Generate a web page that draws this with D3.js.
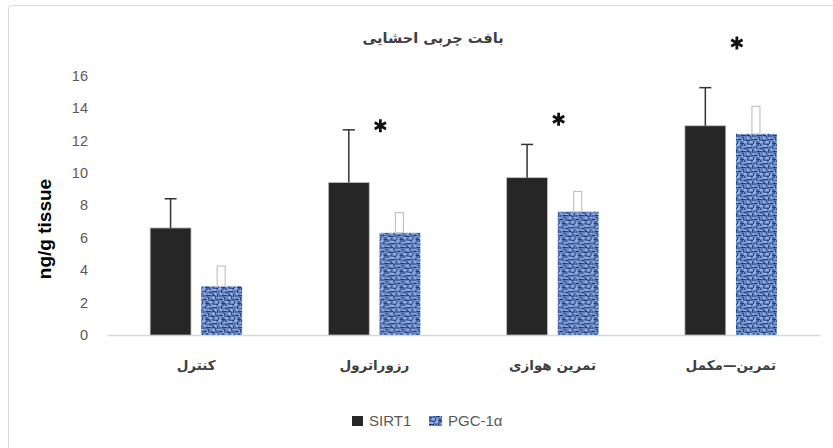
<!DOCTYPE html>
<html>
<head>
<meta charset="utf-8">
<script src="https://cdn.jsdelivr.net/npm/d3@7"></script>
<style>
  html, body { margin: 0; padding: 0; background: #fff; }
  svg { display: block; }
</style>
</head>
<body>
<svg id="chart" width="833" height="448"></svg>
<script>
// Visceral adipose tissue: SIRT1 and PGC-1α per group (ng/g tissue), mean ± SD
const categories = ["کنترل", "رزوراترول", "تمرین هوازی", "تمرین—مکمل"];
const seriesNames = ["SIRT1", "PGC-1α"];
const sirt1Values = [6.6, 9.4, 9.7, 12.9];
const sirt1Errors = [1.8, 3.25, 2.05, 2.35];
const pgcValues = [3.0, 6.3, 7.6, 12.4];
const pgcErrors = [1.25, 1.25, 1.25, 1.7];
const yTicks = [0, 2, 4, 6, 8, 10, 12, 14, 16];
// significance markers: group index and the level (in ng/g) where the star sits
const starGroups = [1, 2, 3];
const starLevels = [12.9, 13.3, 18.0];
const titleText = "بافت چربی احشایی";
const yLabelText = "ng/g tissue";

const svg = d3.select("#chart");
const W = 833, H = 448;
const plot = { left: 107, right: 820, top: 75.5, bottom: 335 };

// chart frame
svg.append("rect")
  .attr("x", 8.5).attr("y", 5.5)
  .attr("width", W + 10).attr("height", H + 10)
  .attr("rx", 3)
  .attr("fill", "#fff")
  .attr("stroke", "#d9d9d9")
  .attr("stroke-width", 1);

// woven blue texture for the PGC-1α bars
const defs = svg.append("defs");
const pat = defs.append("pattern")
  .attr("id", "weave")
  .attr("patternUnits", "userSpaceOnUse")
  .attr("width", 16).attr("height", 16);
pat.append("rect").attr("width", 16).attr("height", 16).attr("fill", "#6685c2");
const weaveLight = [
  [0, 1, 4, 2], [6, 0, 3, 2], [11, 2, 4, 1], [2, 5, 3, 2], [8, 4, 2, 3],
  [12, 6, 3, 2], [0, 9, 3, 2], [5, 9, 4, 1], [10, 10, 2, 3], [3, 13, 3, 2],
  [13, 13, 3, 2], [7, 14, 2, 2]
];
const weaveDark = [
  [4, 0, 2, 1], [0, 3, 5, 1], [9, 2, 1, 3], [13, 0, 1, 2], [5, 5, 1, 4],
  [10, 7, 5, 1], [0, 7, 3, 1], [3, 8, 1, 3], [7, 11, 4, 1], [12, 9, 1, 3],
  [0, 12, 3, 1], [6, 13, 1, 3], [9, 15, 4, 1], [15, 11, 1, 2], [14, 4, 2, 1]
];
const weaveMid = [
  [1, 0, 3, 1], [10, 0, 2, 2], [6, 3, 2, 1], [13, 3, 1, 2], [0, 5, 2, 2],
  [7, 7, 2, 2], [11, 8, 1, 2], [4, 11, 2, 2], [13, 12, 2, 1], [0, 14, 2, 2],
  [10, 13, 2, 2]
];
weaveLight.forEach(r => pat.append("rect").attr("x", r[0]).attr("y", r[1]).attr("width", r[2]).attr("height", r[3]).attr("fill", "#93aee2"));
weaveMid.forEach(r => pat.append("rect").attr("x", r[0]).attr("y", r[1]).attr("width", r[2]).attr("height", r[3]).attr("fill", "#3f60a0"));
weaveDark.forEach(r => pat.append("rect").attr("x", r[0]).attr("y", r[1]).attr("width", r[2]).attr("height", r[3]).attr("fill", "#203c74"));

// scales
const x = d3.scaleBand().domain(categories).range([plot.left, plot.right]).padding(0);
const groupHalf = x.bandwidth() * 0.258;
const xs = d3.scaleBand().domain(seriesNames).range([-groupHalf, groupHalf]).paddingInner(0.2);
const y = d3.scaleLinear().domain([0, 16]).range([plot.bottom, plot.top]);

// y tick labels (no axis line, no ticks)
const yAxis = d3.axisLeft(y).tickValues(yTicks).tickSize(0).tickPadding(0).tickFormat(d3.format("d"));
const yg = svg.append("g").attr("transform", `translate(${88},0)`).call(yAxis);
yg.select(".domain").remove();
yg.selectAll("text")
  .attr("fill", "#595959")
  .style("font-family", "'Liberation Sans', Arial, sans-serif")
  .style("font-size", "14.5px");

// category axis line and labels
const xAxis = d3.axisBottom(x).tickSize(0).tickPadding(0);
const xg = svg.append("g").attr("transform", `translate(0,${plot.bottom})`).call(xAxis);
xg.select(".domain").attr("stroke", "#d9d9d9").attr("stroke-width", 1.3);
xg.selectAll("text")
  .attr("y", 30)
  .attr("dy", "0.35em")
  .attr("fill", "#404040")
  .attr("direction", "rtl")
  .style("font-family", "'DejaVu Sans', sans-serif")
  .style("font-weight", "bold")
  .style("font-size", "13.5px");

const rows = categories.map((c, i) => ({
  cat: c,
  bars: [
    { s: seriesNames[0], v: sirt1Values[i], e: sirt1Errors[i] },
    { s: seriesNames[1], v: pgcValues[i], e: pgcErrors[i] }
  ]
}));

const groups = svg.append("g").selectAll("g.grp").data(rows).join("g")
  .attr("class", "grp")
  .attr("transform", d => `translate(${x(d.cat) + x.bandwidth() / 2},0)`);

// bars
groups.selectAll("rect.bar").data(d => d.bars).join("rect")
  .attr("class", "bar")
  .attr("x", d => xs(d.s))
  .attr("width", xs.bandwidth())
  .attr("y", d => y(d.v))
  .attr("height", d => y(0) - y(d.v))
  .attr("fill", d => d.s === "SIRT1" ? "#262626" : "url(#weave)")
  .attr("stroke", d => d.s === "SIRT1" ? "#bfbfbf" : "none")
  .attr("stroke-width", 0.8);

// SIRT1 error bars: line with a cap
const sirtErr = groups.append("g").datum(d => d.bars[0]);
sirtErr.append("line")
  .attr("x1", d => xs(d.s) + xs.bandwidth() / 2)
  .attr("x2", d => xs(d.s) + xs.bandwidth() / 2)
  .attr("y1", d => y(d.v))
  .attr("y2", d => y(d.v + d.e))
  .attr("stroke", "#333")
  .attr("stroke-width", 1.5);
sirtErr.append("line")
  .attr("x1", d => xs(d.s) + xs.bandwidth() / 2 - 6)
  .attr("x2", d => xs(d.s) + xs.bandwidth() / 2 + 6)
  .attr("y1", d => y(d.v + d.e))
  .attr("y2", d => y(d.v + d.e))
  .attr("stroke", "#333")
  .attr("stroke-width", 1.5);

// PGC-1α error bars: open outlined column
const pgcErr = groups.append("g").datum(d => d.bars[1]);
pgcErr.append("rect")
  .attr("x", d => xs(d.s) + xs.bandwidth() / 2 - 4.5)
  .attr("width", 8)
  .attr("y", d => y(d.v + d.e))
  .attr("height", d => y(d.v) - y(d.v + d.e))
  .attr("fill", "#fff")
  .attr("stroke", "#c4c4c4")
  .attr("stroke-width", 1.2);

// significance stars
const star = d3.symbol().type(d3.symbolAsterisk).size(120);
svg.append("g").selectAll("path").data(starGroups).join("path")
  .attr("transform", (g, i) => `translate(${x(categories[g]) + x.bandwidth() / 2 + 6},${y(starLevels[i])})`)
  .attr("d", star)
  .attr("fill", "none")
  .attr("stroke", "#111")
  .attr("stroke-width", 2.8);

// title
svg.append("text")
  .attr("x", 433).attr("y", 38)
  .attr("text-anchor", "middle")
  .attr("dy", "0.35em")
  .attr("direction", "rtl")
  .attr("fill", "#404040")
  .style("font-family", "'DejaVu Sans', sans-serif")
  .style("font-weight", "bold")
  .style("font-size", "14.5px")
  .text(titleText);

// y axis title
svg.append("text")
  .attr("transform", `translate(44,${229}) rotate(-90)`)
  .attr("text-anchor", "middle")
  .attr("dy", "0.35em")
  .attr("fill", "#000")
  .style("font-family", "'Liberation Sans Narrow', 'Liberation Sans', sans-serif")
  .style("font-weight", "bold")
  .style("font-size", "19px")
  .text(yLabelText);

// legend
const legend = svg.append("g").attr("transform", "translate(352,421)");
const legItems = [
  { name: seriesNames[0], fill: "#262626", dx: 0 },
  { name: seriesNames[1], fill: "url(#weave)", dx: 77 }
];
const li = legend.selectAll("g").data(legItems).join("g")
  .attr("transform", d => `translate(${d.dx},0)`);
li.append("rect")
  .attr("x", 0).attr("y", -5)
  .attr("width", d => d.dx ? 13 : 11).attr("height", 10)
  .attr("fill", d => d.fill);
li.append("text")
  .attr("x", d => d.dx ? 19 : 17).attr("y", 0)
  .attr("dy", "0.35em")
  .attr("fill", "#595959")
  .style("font-family", "'Liberation Sans', Arial, sans-serif")
  .style("font-size", "15px")
  .text(d => d.name);
</script>
</body>
</html>
